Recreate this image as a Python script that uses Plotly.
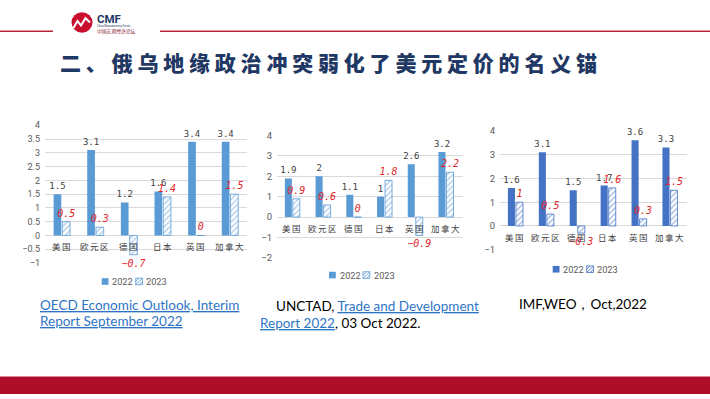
import plotly.graph_objects as go

W, H = 710, 399

def fx(p):
    return p / W

def fy(p):
    return 1 - p / H

# ---------------- data ----------------
categories = ["美国", "欧元区", "德国", "日本", "英国", "加拿大"]
years = ["2022", "2023"]

oecd_2022 = [1.5, 3.1, 1.2, 1.6, 3.4, 3.4]
oecd_2023 = [0.5, 0.3, -0.7, 1.4, 0, 1.5]

unctad_2022 = [1.9, 2, 1.1, 1, 2.6, 3.2]
unctad_2023 = [0.9, 0.6, 0, 1.8, -0.9, 2.2]

imf_2022 = [1.6, 3.1, 1.5, 1.7, 3.6, 3.3]
imf_2023 = [1, 0.5, -0.3, 1.6, 0.3, 1.5]

title_text = "二、俄乌地缘政治冲突弱化了美元定价的名义锚"

# ---------------- styles ----------------
BLUE_A = "#5B9BD5"
BLUE_B = "#4472C4"
RED = "#E3262B"
GRID = "#D9D9D9"
TICK = "#595959"
LABEL = "#404040"
LINK = "#2E75C6"
NAVY = "#1F3864"
BRAND_RED = "#AE0E2A"


def fmt(v):
    return f"{v:g}".replace("-", "\u2212")


fig = go.Figure()

charts = [
    dict(n="", a2022=oecd_2022, a2023=oecd_2023, color=BLUE_A, leg=(101.7, 283.3)),
    dict(n="2", a2022=unctad_2022, a2023=unctad_2023, color=BLUE_A, leg=(329.0, 276.7)),
    dict(n="3", a2022=imf_2022, a2023=imf_2023, color=BLUE_B, leg=(552.7, 270.7)),
]

for c in charts:
    fig.add_trace(go.Bar(
        x=categories, y=c["a2022"], name=years[0],
        xaxis="x" + c["n"], yaxis="y" + c["n"], showlegend=False,
        marker=dict(color=c["color"], line=dict(width=0)),
        text=[fmt(v) for v in c["a2022"]], textposition="outside",
        textfont=dict(family="DejaVu Sans Mono", size=9, color=LABEL),
        constraintext="none", cliponaxis=False, hoverinfo="skip",
    ))
    fig.add_trace(go.Bar(
        x=categories, y=c["a2023"], name=years[1],
        xaxis="x" + c["n"], yaxis="y" + c["n"], showlegend=False,
        marker=dict(color="white", line=dict(color=c["color"], width=0.8),
                    pattern=dict(shape="/", fgcolor=c["color"], bgcolor="white",
                                 size=4, solidity=0.35)),
        text=[fmt(v) for v in c["a2023"]], textposition="outside",
        textfont=dict(family="DejaVu Sans Mono", size=10, color=RED, style="italic"),
        constraintext="none", cliponaxis=False, hoverinfo="skip",
    ))

axis_common_x = dict(type="category", showticklabels=False, showgrid=False,
                     zeroline=False, showline=False, categoryorder="array",
                     categoryarray=categories, fixedrange=True)

def yax(dom, rng, dtick, size):
    return dict(domain=dom, range=rng, dtick=dtick, tick0=0, showgrid=True,
                gridcolor=GRID, gridwidth=1, zeroline=True, zerolinecolor=GRID,
                zerolinewidth=1, showline=False, ticks="", ticklabelstandoff=4,
                tickfont=dict(family="Roboto", size=size, color=TICK), fixedrange=True)

fig.update_layout(
    width=W, height=H, margin=dict(l=0, r=0, t=0, b=0),
    paper_bgcolor="white", plot_bgcolor="white",
    barmode="group", bargap=0.48, bargroupgap=0.12,
    showlegend=False,
    xaxis=dict(domain=[fx(45), fx(247)], anchor="y", **axis_common_x),
    yaxis=dict(anchor="x", **yax([fy(264.3), fy(122.7)], [-1, 4], 0.5, 9)),
    xaxis2=dict(domain=[fx(277), fx(463)], anchor="y2", **axis_common_x),
    yaxis2=dict(anchor="x2", **yax([fy(259), fy(133.3)], [-2, 4], 1, 9.5)),
    xaxis3=dict(domain=[fx(500), fx(687)], anchor="y3", **axis_common_x),
    yaxis3=dict(anchor="x3", **yax([fy(250.7), fy(128.3)], [-1, 4], 1, 9.5)),
)

# category labels along the zero line
for c in charts:
    for cat in categories:
        fig.add_annotation(
            x=cat, y=0, xref="x" + c["n"], yref="y" + c["n"],
            text=f'<span style="letter-spacing:1.5px">{cat}</span>',
            showarrow=False, yanchor="top", yshift=-3,
            font=dict(family="Noto Sans CJK SC", size=8.5, color=LABEL),
        )

def ann(x, y, text, size, color, family="Lato", xanchor="left", yanchor="middle", **kw):
    fig.add_annotation(x=fx(x), y=fy(y), xref="paper", yref="paper", text=text,
                       showarrow=False, xanchor=xanchor, yanchor=yanchor, align="left",
                       borderpad=0,
                       font=dict(family=family, size=size, color=color, **kw))

# ---------------- slide decoration ----------------
shapes = [
    dict(type="line", xref="paper", yref="paper", x0=fx(0), x1=fx(53), y0=fy(26), y1=fy(26),
         line=dict(color="#B7273A", width=1.5)),
    dict(type="line", xref="paper", yref="paper", x0=fx(160), x1=fx(710), y0=fy(26), y1=fy(26),
         line=dict(color="#B7273A", width=1.5)),
    dict(type="rect", xref="paper", yref="paper", x0=0, x1=1, y0=0, y1=fy(381),
         fillcolor=BRAND_RED, line=dict(width=0)),
    dict(type="circle", xref="paper", yref="paper", x0=fx(71.5), x1=fx(92.5),
         y0=fy(27.5), y1=fy(6.5), fillcolor="#C8102E", line=dict(width=0)),
]
pts = [(73.5, 22.5), (77.5, 15.5), (81, 20), (85.5, 12.5), (90, 17)]
path = "M " + " L ".join(f"{fx(a):.5f},{fy(b):.5f}" for a, b in pts)
shapes.append(dict(type="path", xref="paper", yref="paper", path=path,
                   line=dict(color="white", width=2)))

# compact legends (solid swatch + hatched swatch + labels)
S = 6.8
for c in charts:
    lx, ly = c["leg"]
    col = c["color"]
    shapes.append(dict(type="rect", xref="paper", yref="paper",
                       x0=fx(lx), x1=fx(lx + S), y0=fy(ly + S / 2), y1=fy(ly - S / 2),
                       fillcolor=col, line=dict(width=0)))
    hx = lx + 34
    x0, y0 = hx, ly - S / 2
    shapes.append(dict(type="rect", xref="paper", yref="paper",
                       x0=fx(x0), x1=fx(x0 + S), y0=fy(y0 + S), y1=fy(y0),
                       fillcolor="white", line=dict(color=col, width=0.8)))
    for f in (0.5, 1.0, 1.5):
        cc = f * S  # "/" hatch lines inside the swatch
        xa = max(0, cc - S); xb = min(S, cc)
        shapes.append(dict(type="line", xref="paper", yref="paper",
                           x0=fx(x0 + xa), y0=fy(y0 + cc - xa),
                           x1=fx(x0 + xb), y1=fy(y0 + cc - xb),
                           line=dict(color=col, width=0.9)))
    ann(lx + 9.5, ly, years[0], 9.2, TICK, family="Roboto")
    ann(lx + 43.5, ly, years[1], 9.2, TICK, family="Roboto")

fig.update_layout(shapes=shapes)

# logo texts
ann(96, 13, "CMF", 11.5, NAVY, family="Roboto", weight="bold")
ann(96, 20.6, "China Macroeconomy Forum", 2.6, NAVY, family="Roboto")
ann(96, 25.4, "中国宏观经济论坛", 4.8, "#8B2332", family="Noto Sans CJK SC")

# title
ann(59, 58, f'<span style="letter-spacing:4.8px">{title_text}</span>', 21, NAVY,
    family="Noto Sans CJK SC", weight=900)

# source captions
ann(39, 307, '<u>OECD Economic Outlook, Interim</u>', 13.5, LINK)
ann(39, 324, '<u>Report September 2022</u>', 13.5, LINK)
ann(275, 309, '<span style="color:#000000">UNCTAD, </span><u>Trade and Development</u>', 13.5, LINK)
ann(259, 326, '<u>Report 2022</u><span style="color:#000000">, 03 Oct 2022.</span>', 13.5, LINK)
ann(518, 306, "IMF,WEO，Oct,2022", 13.5, "#000000")

fig.write_html("out.html", config={"displayModeBar": False},
               post_script="document.body.style.margin='0px';")
